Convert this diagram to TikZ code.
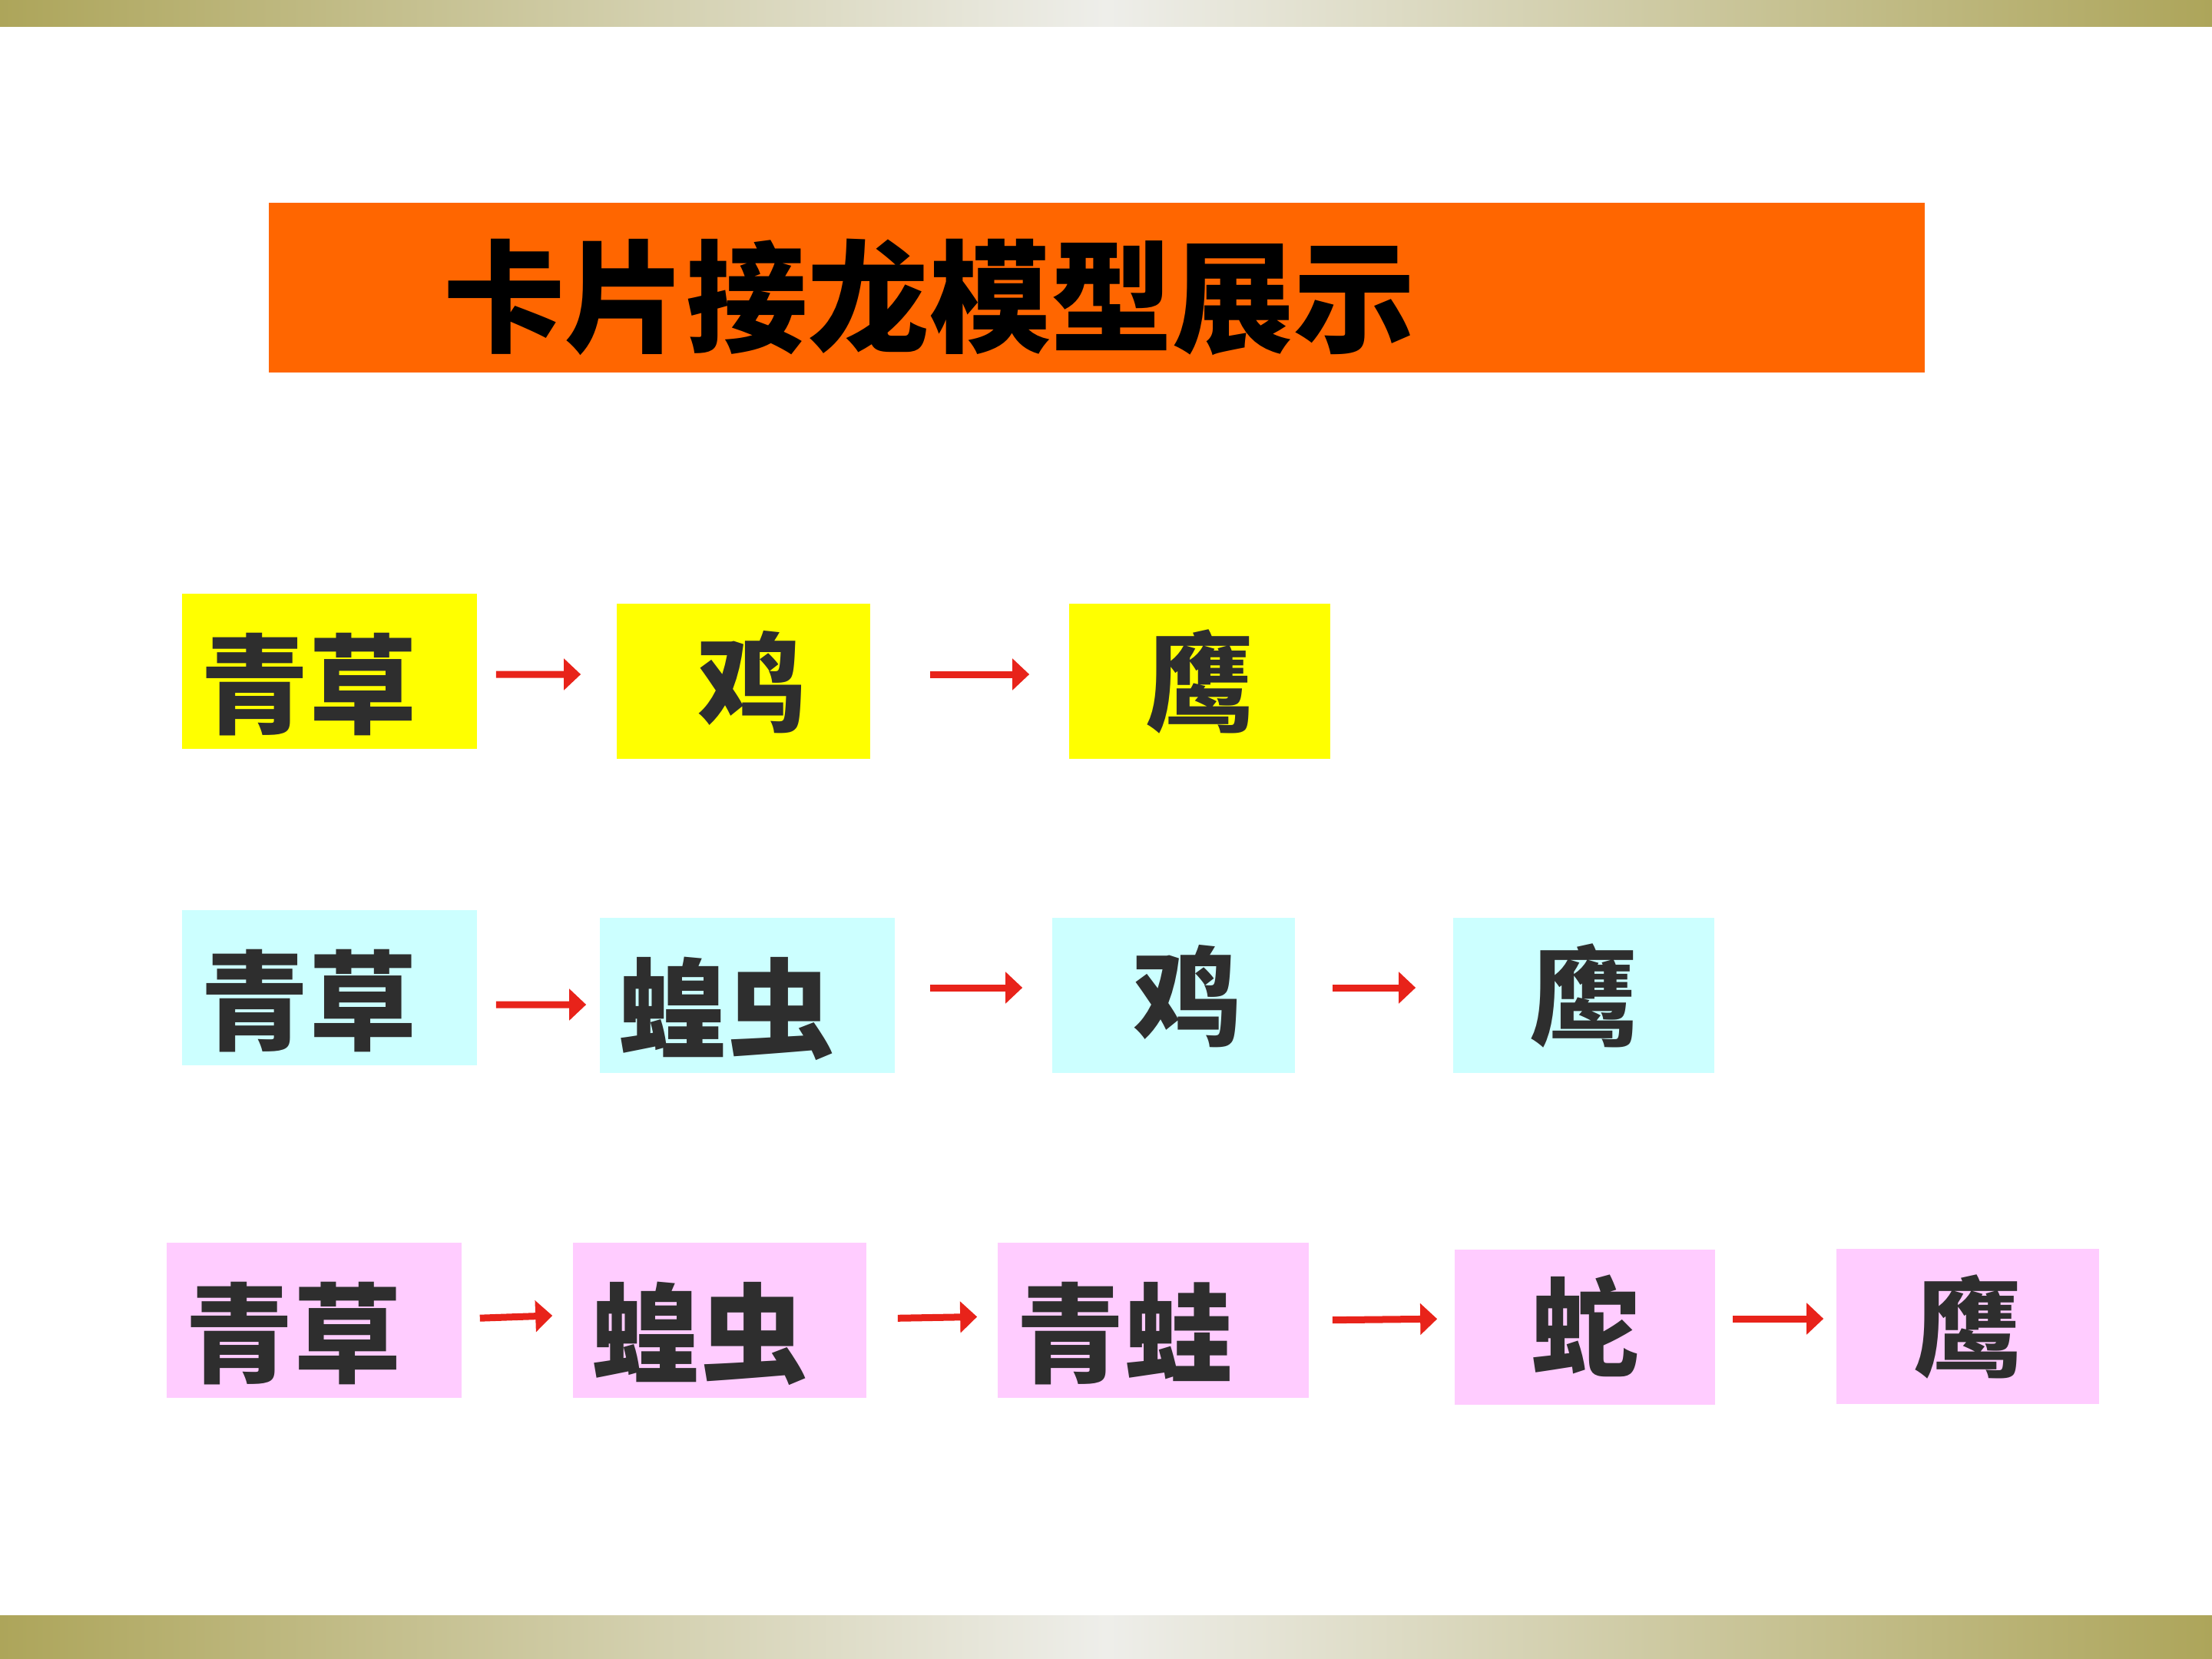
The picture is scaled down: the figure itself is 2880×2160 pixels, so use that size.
\documentclass[tikz,border=0pt]{standalone}
\usepackage{fontspec}
\newfontfamily\cjk{Noto Sans CJK SC}
\usepackage{xcolor}
\usetikzlibrary{arrows.meta}
\definecolor{barolive}{HTML}{ADA55A}
\definecolor{barlight}{HTML}{EEEEEA}
\definecolor{titleorange}{HTML}{FF6600}
\definecolor{cardyellow}{HTML}{FFFF00}
\definecolor{cardcyan}{HTML}{CCFFFF}
\definecolor{cardpink}{HTML}{FFCCFF}
\definecolor{inkgray}{HTML}{2E2E2E}
\definecolor{arrowred}{HTML}{E8231A}
\tikzset{>=Stealth}

\begin{document}
\begin{tikzpicture}[
    x=0.01cm, y=-0.01cm,
    card/.style={rectangle, inner sep=0pt, minimum height=2.02cm,
        text height=40pt, text depth=0pt,
        text=inkgray, font=\cjk\bfseries\fontsize{40pt}{40pt}\selectfont},
    pair/.style={align=left, inner xsep=0.25cm, text width=#1},
    single/.style={minimum width=#1, text height=31pt},
    yellowcard/.style={card, fill=cardyellow},
    cyancard/.style={card, fill=cardcyan},
    pinkcard/.style={card, fill=cardpink},
    arrow/.style={-{Triangle[length=0.22cm,width=0.4cm]}, line width=0.09cm,
        arrowred}
]
    \useasboundingbox (0,0) rectangle (2880,2160);
    % olive bars
    \shade[left color=barolive, right color=barolive, middle color=barlight]
        (0,0) rectangle (2880,34);
    \shade[left color=barolive, right color=barolive, middle color=barlight]
        (0,2103) rectangle (2880,2160);

    % title
    \node[rectangle, fill=titleorange, inner sep=0pt, minimum width=21.54cm,
        minimum height=2.21cm] (titlebox) at (1428,374.5) {};
    \node[font=\cjk\bfseries\fontsize{45pt}{45pt}\selectfont, inner sep=0pt]
        (title) at (1210,387) {卡片接龙模型展示};

    % row 1
    \node[yellowcard, pair=3.34cm] (grassA) at (429,874) {青草};
    \node[yellowcard, single=3.30cm] (chickenA) at (968,887) {\hspace*{0.22cm}鸡};
    \node[yellowcard, single=3.40cm] (eagleA) at (1562,887) {鹰};

    % row 2
    \node[cyancard, pair=3.34cm] (grassB) at (429,1286) {青草};
    \node[cyancard, pair=3.34cm] (locustB) at (973,1296) {蝗虫};
    \node[cyancard, single=3.16cm] (chickenB) at (1528,1296) {\hspace*{0.36cm}鸡};
    \node[cyancard, single=3.40cm] (eagleB) at (2062,1296) {鹰};

    % row 3
    \node[pinkcard, pair=3.34cm] (grassC) at (409,1719) {青草};
    \node[pinkcard, pair=3.32cm] (locustC) at (937,1719) {蝗虫};
    \node[pinkcard, pair=3.55cm] (frogC) at (1501.5,1719) {青蛙};
    \node[pinkcard, single=3.39cm] (snakeC) at (2063.5,1728) {蛇};
    \node[pinkcard, single=3.42cm] (eagleC) at (2562,1727) {鹰};

    \draw[arrow, shorten <=0.24cm, shorten >=0.46cm]
        ([yshift=-0.04cm]grassA.east) -- ([yshift=0.09cm]chickenA.west);
    \draw[arrow, shorten <=0.77cm, shorten >=0.51cm]
        ([yshift=0.09cm]chickenA.east) -- ([yshift=0.09cm]eagleA.west);

    \draw[arrow, shorten <=0.24cm, shorten >=0.17cm]
        ([yshift=-0.22cm]grassB.east) -- ([yshift=-0.12cm]locustB.west);
    \draw[arrow, shorten <=0.45cm, shorten >=0.38cm]
        ([yshift=0.10cm]locustB.east) -- ([yshift=0.10cm]chickenB.west);
    \draw[arrow, shorten <=0.48cm, shorten >=0.48cm]
        ([yshift=0.10cm]chickenB.east) -- ([yshift=0.10cm]eagleB.west);

    \draw[arrow, shorten <=0.23cm, shorten >=0.26cm]
        ([yshift=0.02cm]grassC.east) -- ([yshift=0.07cm]locustC.west);
    \draw[arrow, shorten <=0.40cm, shorten >=0.26cm]
        ([yshift=0.02cm]locustC.east) -- ([yshift=0.05cm]frogC.west);
    \draw[arrow, shorten <=0.30cm, shorten >=0.22cm]
        (frogC.east) -- ([yshift=0.11cm]snakeC.west);
    \draw[arrow, shorten <=0.22cm, shorten >=0.16cm]
        ([yshift=0.11cm]snakeC.east) -- ([yshift=0.10cm]eagleC.west);
\end{tikzpicture}
\end{document}
